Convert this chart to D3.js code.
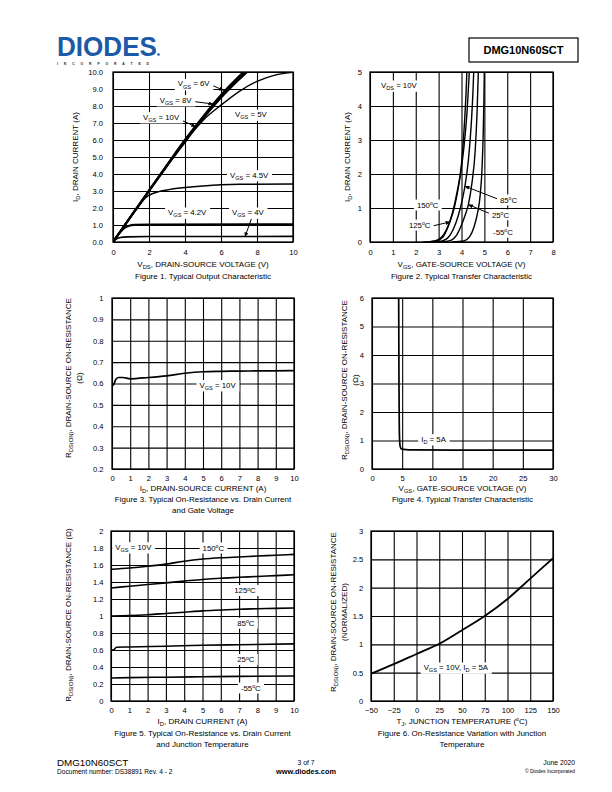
<!DOCTYPE html>
<html><head><meta charset="utf-8">
<script src="https://cdn.jsdelivr.net/npm/d3@7"></script>
<style>body{margin:0;background:#fff}svg{display:block}</style>
</head><body><svg id="c" width="612" height="792"></svg>
<script>
// ================= DATA =================
// Figure 1: ID vs VDS, [VDS, ID]
const fig1_vgs10 = [[0,0],[1,1.53],[2,3.04],[3,4.54],[4,6.02],[5,7.38],[6,8.65],[7,9.75],[7.4,10.15]];
const fig1_vgs8  = [[0,0],[1,1.52],[2,3.02],[3,4.51],[4,5.98],[5,7.32],[6,8.56],[7,9.64],[7.5,10.15]];
const fig1_vgs6  = [[0,0],[1,1.51],[2,3.0],[3,4.48],[4,5.94],[5,7.26],[6,8.48],[7,9.55],[7.6,10.15]];
const fig1_vgs5  = [[0,0],[1,1.5],[2,2.98],[3,4.45],[4,5.85],[4.5,6.55],[5,7.15],[6,8.05],[7,8.85],[8,9.45],[9,9.82],[10,9.98]];
const fig1_vgs45 = [[0,0],[0.5,0.76],[1,1.5],[1.5,2.2],[1.75,2.55],[2,2.75],[2.5,2.95],[3,3.06],[4,3.2],[5,3.3],[6,3.37],[7,3.4],[10,3.41]];
const fig1_vgs42 = [[0,0],[0.3,0.45],[0.6,0.8],[0.9,0.96],[1.2,1.01],[2,1.03],[10,1.04]];
const fig1_vgs4  = [[0,0],[0.15,0.15],[0.4,0.26],[0.8,0.3],[2,0.32],[10,0.33]];
const fig1_xticks = [0,2,4,6,8,10];
const fig1_yticks = [0,1,2,3,4,5,6,7,8,9,10];

// Figure 2: ID vs VGS, [VGS, ID]
const fig2_t150 = [[2.3,0],[2.7,0.02],[3.0,0.08],[3.2,0.2],[3.4,0.45],[3.6,0.85],[3.8,1.45],[4.0,2.3],[4.12,3.4],[4.2,4.4],[4.24,5.1]];
const fig2_t125 = [[2.5,0],[2.9,0.03],[3.2,0.15],[3.35,0.35],[3.5,0.6],[3.7,1.05],[3.9,1.75],[4.1,2.75],[4.25,3.9],[4.35,5.1]];
const fig2_t85  = [[2.8,0],[3.2,0.04],[3.5,0.2],[3.75,0.55],[3.95,1.0],[4.15,1.64],[4.3,2.4],[4.42,3.4],[4.5,4.4],[4.54,5.1]];
const fig2_t25  = [[3.1,0],[3.5,0.04],[3.8,0.22],[4.0,0.5],[4.15,0.77],[4.3,1.1],[4.45,1.7],[4.6,2.7],[4.68,3.8],[4.74,5.1]];
const fig2_tm55 = [[3.6,0],[4.1,0.03],[4.35,0.15],[4.55,0.45],[4.7,0.85],[4.82,1.4],[4.9,2.2],[4.95,3.2],[4.98,4.2],[5.0,5.1]];
const fig2_xticks = [0,1,2,3,4,5,6,7,8];
const fig2_yticks = [0,1,2,3,4,5];

// Figure 3: RDS(on) vs ID, [ID, R]
const fig3_vgs10 = [[0.05,0.59],[0.12,0.6],[0.2,0.618],[0.35,0.628],[0.6,0.628],[1,0.622],[2,0.628],[3,0.636],[4,0.648],[5,0.655],[6,0.657],[7,0.658],[8,0.659],[10,0.66]];
const fig3_xticks = [0,1,2,3,4,5,6,7,8,9,10];
const fig3_yticks = [0.2,0.3,0.4,0.5,0.6,0.7,0.8,0.9,1];

// Figure 4: RDS(on) vs VGS, [VGS, R]
const fig4_id5 = [[4.42,6.2],[4.47,3],[4.52,1.6],[4.58,1.0],[4.66,0.8],[4.8,0.72],[5.2,0.69],[7,0.67],[15,0.665],[30,0.66]];
const fig4_xticks = [0,5,10,15,20,25,30];
const fig4_yticks = [0,1,2,3,4,5,6];

// Figure 5: RDS(on) vs ID at temperatures, [ID, R]
const fig5_t150 = [[0,1.55],[1,1.565],[2,1.585],[3,1.61],[4,1.645],[5,1.67],[6,1.685],[7,1.695],[8,1.705],[9,1.715],[10,1.725]];
const fig5_t125 = [[0,1.33],[1,1.35],[2,1.37],[3,1.39],[4,1.41],[5,1.43],[6,1.445],[7,1.455],[8,1.465],[9,1.475],[10,1.485]];
const fig5_t85  = [[0,1.0],[1,1.005],[2,1.015],[3,1.03],[4,1.045],[5,1.06],[6,1.07],[7,1.08],[8,1.085],[9,1.09],[10,1.095]];
const fig5_t25  = [[0,0.6],[0.12,0.6],[0.3,0.632],[1,0.636],[3,0.645],[5,0.655],[7,0.662],[10,0.672]];
const fig5_tm55 = [[0,0.27],[1,0.275],[3,0.28],[5,0.285],[7,0.29],[10,0.295]];
const fig5_xticks = [0,1,2,3,4,5,6,7,8,9,10];
const fig5_yticks = [0,0.2,0.4,0.6,0.8,1,1.2,1.4,1.6,1.8,2];

// Figure 6: normalized RDS(on) vs TJ, [TJ, R]
const fig6_norm = [[-50,0.48],[-25,0.65],[0,0.83],[25,1.01],[50,1.25],[75,1.5],[100,1.8],[125,2.16],[150,2.52]];
const fig6_xticks = [-50,-25,0,25,50,75,100,125,150];
const fig6_yticks = [0,0.5,1,1.5,2,2.5,3];

// ================= DRAWING =================
const F = '"Liberation Sans", Arial, Helvetica, sans-serif';
const svg = d3.select("#c");
svg.append("defs").append("marker").attr("id","arr").attr("viewBox","0 0 10 10")
  .attr("refX",9).attr("refY",5).attr("markerWidth",5).attr("markerHeight",5)
  .attr("orient","auto").append("path").attr("d","M0,1 L10,5 L0,9 z").attr("fill","#000");

function rich(t, str, fs) {
  const parts = str.split(/(_\{[^}]*\}|\^\{[^}]*\})/).filter(s => s.length);
  let cur = 0;
  parts.forEach(p => {
    let s = p, off = 0, size = fs;
    if (p.startsWith("_{")) { s = p.slice(2,-1); off = fs*0.3; size = fs*0.72; }
    else if (p.startsWith("^{")) { s = p.slice(2,-1); off = -fs*0.38; size = fs*0.65; }
    t.append("tspan").attr("dy", off - cur).attr("font-size", size).text(s);
    cur = off;
  });
  if (cur !== 0) t.append("tspan").attr("dy", -cur).text("\u200B");
}
function txt(g, x, y, str, o = {}) {
  const fs = o.fs || 8;
  const t = g.append("text").attr("x", x).attr("y", y).attr("font-size", fs)
    .attr("font-family", F).attr("text-anchor", o.anchor || "start").attr("fill", o.fill || "#000");
  if (o.weight) t.attr("font-weight", o.weight);
  if (o.rotate) t.attr("transform", `rotate(${o.rotate},${x},${y})`);
  rich(t, str, fs);
  if (o.bg) {
    const b = t.node().getBBox();
    g.insert("rect", () => t.node()).attr("x", b.x - 3).attr("y", b.y - 0.5)
      .attr("width", b.width + 6).attr("height", b.height + 1).attr("fill", "#fff");
  }
  return t;
}

function chart(c) {
  const g = svg.append("g");
  const x = d3.scaleLinear().domain(c.xd).range([c.l, c.r]);
  const y = d3.scaleLinear().domain(c.yd).range([c.b, c.t]);
  const H = c.b - c.t, W = c.r - c.l;
  g.append("g").attr("transform", `translate(0,${c.b})`)
    .call(d3.axisBottom(x).tickValues(c.xt).tickSize(-H).tickFormat(""))
    .call(s => { s.select(".domain").remove(); s.selectAll("line").attr("stroke","#000").attr("stroke-width",1.1); });
  g.append("g").attr("transform", `translate(${c.l},0)`)
    .call(d3.axisLeft(y).tickValues(c.yt).tickSize(-W).tickFormat(""))
    .call(s => { s.select(".domain").remove(); s.selectAll("line").attr("stroke","#000").attr("stroke-width",1.1); });
  g.append("rect").attr("x", c.l).attr("y", c.t).attr("width", W).attr("height", H)
    .attr("fill","none").attr("stroke","#000").attr("stroke-width",1.3);
  g.append("g").attr("transform", `translate(0,${c.b})`)
    .call(d3.axisBottom(x).tickValues(c.xt).tickSize(0).tickPadding(c.xp).tickFormat(c.xf || d3.format("")))
    .call(s => { s.select(".domain").remove(); s.selectAll("text").attr("font-size",7.6).attr("font-family",F).attr("fill","#000"); });
  g.append("g").attr("transform", `translate(${c.l},0)`)
    .call(d3.axisLeft(y).tickValues(c.yt).tickSize(0).tickPadding(c.yp).tickFormat(c.yf || d3.format("")))
    .call(s => { s.select(".domain").remove(); s.selectAll("text").attr("font-size",7.6).attr("font-family",F).attr("fill","#000"); });
  const id = "clip" + Math.random().toString(36).slice(2);
  svg.select("defs").append("clipPath").attr("id", id).append("rect")
    .attr("x", c.l).attr("y", c.t).attr("width", W).attr("height", H);
  const cg = g.append("g").attr("clip-path", `url(#${id})`);
  const line = d3.line().x(d => x(d[0])).y(d => y(d[1])).curve(d3.curveMonotoneX);
  c.series.forEach(s => {
    cg.append("path").attr("d", line(s.d)).attr("fill","none").attr("stroke","#000")
      .attr("stroke-width", s.w || 1.4).attr("stroke-linejoin","round");
  });
  const cx = (c.l + c.r) / 2;
  txt(g, c.xtx || cx, c.xty, c.xtitle, {anchor:"middle"});
  c.titles.forEach((t, i) => txt(g, c.ttx || cx, c.tty + i * 10.5, t, {anchor:"middle"}));
  c.ytitles.forEach((t, i) => txt(g, c.ytx + i * 11, c.yty, t, {anchor:"middle", rotate:-90}));
  (c.notes || []).forEach(n => {
    if (n.lead) g.append("line").attr("x1", x(n.lead[0])).attr("y1", y(n.lead[1]))
      .attr("x2", x(n.lead[2])).attr("y2", y(n.lead[3])).attr("stroke","#000").attr("stroke-width",1)
      .attr("marker-end","url(#arr)");
    txt(g, x(n.p[0]), y(n.p[1]), n.s, {anchor: n.a || "start", bg: true, fs: 7.8});
  });
  return {x, y};
}

// Figure 1
chart({l:113, r:293, t:72, b:242, xd:[0,10], yd:[0,10], xt:fig1_xticks, yt:fig1_yticks, xp:7.5, yp:10,
  yf:d3.format(".1f"),
  series:[{d:fig1_vgs4,w:1.6},{d:fig1_vgs42,w:2.2},{d:fig1_vgs45,w:1.5},{d:fig1_vgs5,w:1.4},
          {d:fig1_vgs6,w:2},{d:fig1_vgs8,w:2},{d:fig1_vgs10,w:2}],
  xtitle:"V_{DS}, DRAIN-SOURCE VOLTAGE (V)", xty:267, titles:["Figure 1. Typical Output Characteristic"], tty:279,
  ytitles:["I_{D}, DRAIN CURRENT (A)"], ytx:78, yty:157,
  notes:[
    {p:[3.6,9.15], s:"V_{GS} = 6V", lead:[5.5,9.22,6.15,8.92]},
    {p:[2.6,8.2], s:"V_{GS} = 8V", lead:[4.2,8.3,5.55,8.12]},
    {p:[1.67,7.2], s:"V_{GS} = 10V", lead:[3.6,7.26,4.6,6.78]},
    {p:[6.78,7.35], s:"V_{GS} = 5V"},
    {p:[6.5,3.79], s:"V_{GS} = 4.5V"},
    {p:[3.06,1.59], s:"V_{GS} = 4.2V"},
    {p:[6.61,1.59], s:"V_{GS} = 4V", lead:[7.7,1.39,7.33,0.3]}
  ]});

// Figure 2
chart({l:370, r:553, t:72, b:242, xd:[0,8], yd:[0,5], xt:fig2_xticks, yt:fig2_yticks, xp:7.5, yp:8,
  series:[{d:fig2_t150},{d:fig2_t125},{d:fig2_t85},{d:fig2_t25},{d:fig2_tm55}],
  xtitle:"V_{GS}, GATE-SOURCE VOLTAGE (V)", xty:267, titles:["Figure 2. Typical Transfer Characteristic"], tty:279,
  ytitles:["I_{D}, DRAIN CURRENT (A)"], ytx:350, yty:157,
  notes:[
    {p:[0.48,4.53], s:"V_{DS} = 10V"},
    {p:[2.05,1.0], s:"150^{o}C"},
    {p:[1.7,0.41], s:"125^{o}C", lead:[2.72,0.47,3.5,0.59]},
    {p:[5.68,1.15], s:"85^{o}C", lead:[5.6,1.26,4.15,1.64]},
    {p:[5.33,0.71], s:"25^{o}C", lead:[5.29,0.82,4.3,1.1]},
    {p:[5.38,0.2], s:"-55^{o}C"}
  ]});

// Figure 3
chart({l:112, r:294, t:298, b:469, xd:[0,10], yd:[0.2,1], xt:fig3_xticks, yt:fig3_yticks, xp:6.5, yp:8.5,
  series:[{d:fig3_vgs10,w:1.7}],
  xtitle:"I_{D}, DRAIN-SOURCE CURRENT (A)", xty:491, titles:["Figure 3. Typical On-Resistance vs. Drain Current","and Gate Voltage"], tty:502,
  ytitles:["R_{DS(ON)}, DRAIN-SOURCE ON-RESISTANCE","(Ω)"], ytx:71, yty:378,
  notes:[{p:[5.8,0.581], s:"V_{GS} = 10V", a:"middle"}]});

// Figure 4
chart({l:372, r:553, t:298, b:469, xd:[0,30], yd:[0,6], xt:fig4_xticks, yt:fig4_yticks, xp:6.5, yp:8,
  series:[{d:fig4_id5,w:1.7}],
  xtitle:"V_{GS}, GATE-SOURCE VOLTAGE (V)", xty:491, titles:["Figure 4. Typical Transfer Characteristic"], tty:502,
  ytitles:["R_{DS(ON)}, DRAIN-SOURCE ON-RESISTANCE","(Ω)"], ytx:347, yty:380,
  notes:[{p:[10.2,0.96], s:"I_{D} = 5A", a:"middle"}]});

// Figure 5
chart({l:111, r:294, t:531, b:701, xd:[0,10], yd:[0,2], xt:fig5_xticks, yt:fig5_yticks, xp:7, yp:7.5,
  series:[{d:fig5_t150,w:1.6},{d:fig5_t125,w:1.6},{d:fig5_t85,w:1.6},{d:fig5_t25,w:1.6},{d:fig5_tm55,w:1.6}],
  xtitle:"I_{D}, DRAIN CURRENT (A)", xty:724, titles:["Figure 5. Typical On-Resistance vs. Drain Current","and  Junction Temperature"], tty:736,
  ytitles:["R_{DS(ON)}, DRAIN-SOURCE ON-RESISTANCE (Ω)"], ytx:71, yty:615,
  notes:[
    {p:[1.22,1.78], s:"V_{GS} = 10V", a:"middle"},
    {p:[5.59,1.765], s:"150^{o}C", a:"middle"},
    {p:[7.32,1.265], s:"125^{o}C", a:"middle"},
    {p:[7.37,0.88], s:"85^{o}C", a:"middle"},
    {p:[7.37,0.453], s:"25^{o}C", a:"middle"},
    {p:[7.64,0.118], s:"-55^{o}C", a:"middle"}
  ]});

// Figure 6
chart({l:371, r:553, t:531, b:701, xd:[-50,150], yd:[0,3], xt:fig6_xticks, yt:fig6_yticks, xp:7, yp:7.7,
  series:[{d:fig6_norm,w:1.8}],
  xtitle:"T_{J}, JUNCTION TEMPERATURE (^{o}C)", xty:724, titles:["Figure 6. On-Resistance Variation with Junction","Temperature"], tty:736,
  ytitles:["R_{DS(ON)}, DRAIN-SOURCE ON-RESISTANCE","(NORMALIZED)"], ytx:336, yty:612,
  notes:[{p:[43.2,0.547], s:"V_{GS} = 10V, I_{D} = 5A", a:"middle"}]});

// ================= HEADER / FOOTER =================
const hd = svg.append("g");
hd.append("text").attr("x",57).attr("y",55.5).attr("font-family",F).attr("font-weight","bold")
  .attr("font-size",27).attr("fill","#1b5aa6").attr("textLength",100).attr("lengthAdjust","spacingAndGlyphs").text("DIODES");
hd.append("text").attr("x",57).attr("y",64.5).attr("font-family",F).attr("font-weight","bold")
  .attr("font-size",3.4).attr("fill","#222").attr("textLength",92).attr("lengthAdjust","spacing").text("I N C O R P O R A T E D");
hd.append("circle").attr("cx",158.5).attr("cy",54.5).attr("r",1.3).attr("fill","#1b5aa6");
hd.append("rect").attr("x",469).attr("y",38).attr("width",109).attr("height",24).attr("fill","none").attr("stroke","#000").attr("stroke-width",1.2);
hd.append("text").attr("x",523.5).attr("y",54).attr("text-anchor","middle").attr("font-family",F).attr("font-weight","bold").attr("font-size",11).text("DMG10N60SCT");

const ft = svg.append("g").attr("font-family",F).attr("fill","#000");
ft.append("text").attr("x",57).attr("y",765.5).attr("font-size",9.8).text("DMG10N60SCT");
ft.append("text").attr("x",57).attr("y",773.5).attr("font-size",6.6).text("Document number: DS38891 Rev. 4 - 2");
ft.append("text").attr("x",306).attr("y",764.5).attr("text-anchor","middle").attr("font-size",6.8).text("3 of 7");
ft.append("text").attr("x",306).attr("y",773.5).attr("text-anchor","middle").attr("font-size",7.4).attr("font-weight","bold").text("www.diodes.com");
ft.append("text").attr("x",575).attr("y",764.5).attr("text-anchor","end").attr("font-size",6.8).text("June 2020");
ft.append("text").attr("x",575).attr("y",772.5).attr("text-anchor","end").attr("font-size",5).text("© Diodes Incorporated");
</script></body></html>
